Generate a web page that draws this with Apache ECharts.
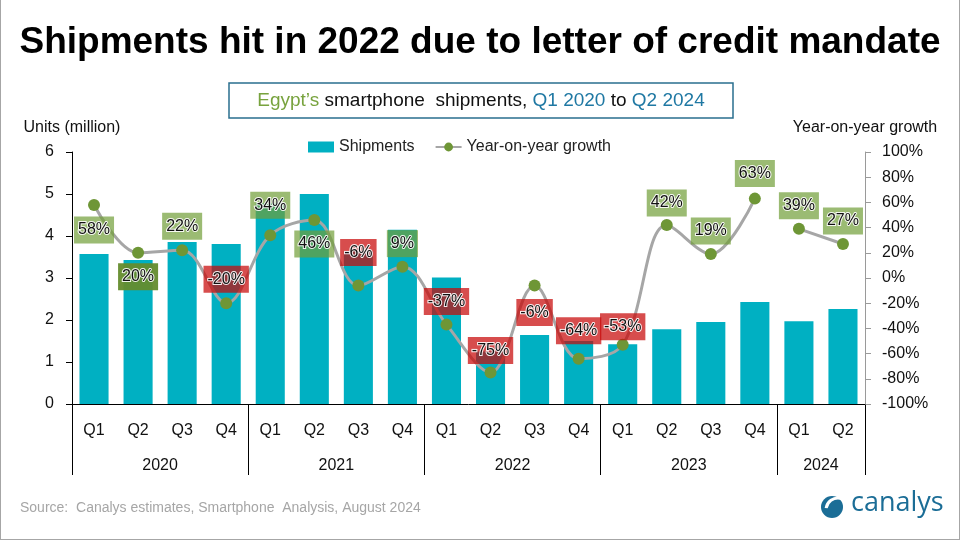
<!DOCTYPE html>
<html>
<head>
<meta charset="utf-8">
<script src="https://cdn.jsdelivr.net/npm/echarts@6/dist/echarts.min.js"></script>
<style>
html,body{margin:0;padding:0;background:#fff;}
#wrap{position:relative;width:960px;height:540px;}
#chart{width:960px;height:540px;}
#frame{position:absolute;left:0;top:0;width:960px;height:540px;box-sizing:border-box;border-left:1px solid #a6a6a6;border-right:1px solid #a6a6a6;border-bottom:1px solid #a6a6a6;pointer-events:none;}
</style>
</head>
<body>
<div id="wrap"><div id="chart"></div><div id="frame"></div></div>
<script>
// ---- data ----
const quarters = ['Q1','Q2','Q3','Q4','Q1','Q2','Q3','Q4','Q1','Q2','Q3','Q4','Q1','Q2','Q3','Q4','Q1','Q2'];
const years = ['2020','2021','2022','2023','2024'];
const quartersPerYear = [4,4,4,4,2];
const shipments = [3.57,3.43,3.86,3.81,4.78,5.00,3.64,4.15,3.01,1.25,1.64,1.50,1.42,1.78,1.95,2.43,1.97,2.26];
const growth = [58,20,22,-20,34,46,-6,9,-37,-75,-6,-64,-53,42,19,63,39,27];
const growthSegments = [[0,15],[16,17]]; // line is broken between 2023 and 2024

// ---- styles ----
const FONT = "'Liberation Sans',sans-serif";
const labelDy = [25,24,-24,-24,-30,24,-33,-23,-23,-22,27,-28,-18,-22,-23,-25,-23,-23];
const darkLabelIdx = [1];

// year axis: boundary-point category axis (19 points for 18 quarters)
const nB = quarters.length + 1;
const yearAxisData = new Array(nB).fill('');
const yearLabelIdx = [], yearTickIdx = [0];
let acc = 0;
quartersPerYear.forEach((n, i) => {
  const c = acc + n / 2;
  yearAxisData[c] = years[i];
  yearLabelIdx.push(c);
  acc += n;
  yearTickIdx.push(acc);
});

function growthData(seg) {
  return growth.map((v, i) => {
    if (i < seg[0] || i > seg[1]) return null;
    const pos = v >= 0;
    let bg = pos ? 'rgba(112,158,55,0.7)' : 'rgba(200,8,8,0.72)';
    if (darkLabelIdx.includes(i)) bg = 'rgba(100,140,45,0.95)';
    return {
      value: v,
      label: {
        show: true,
        position: 'inside',
        offset: [0, labelDy[i]],
        formatter: v + '%',
        backgroundColor: bg,
        padding: [4, 4, 2, 4],
        fontSize: 16,
        lineHeight: 21,
        fontFamily: FONT,
        color: '#111',
        textBorderColor: 'rgba(255,255,255,0.9)',
        textBorderWidth: 2
      }
    };
  });
}

const chart = echarts.init(document.getElementById('chart'), null, {renderer: 'canvas'});

const lineSeries = growthSegments.map(seg => ({
  name: 'Year-on-year growth',
  type: 'line',
  yAxisIndex: 1,
  data: growthData(seg),
  smooth: 0.35,
  symbol: 'circle',
  symbolSize: 12,
  connectNulls: false,
  lineStyle: {color: '#a6a6a6', width: 3},
  itemStyle: {color: '#6e9636'},
  z: 5
}));

chart.setOption({
  animation: false,
  textStyle: {fontFamily: FONT},
  title: {
    text: 'Shipments hit in 2022 due to letter of credit mandate',
    left: 'center',
    top: 19,
    textStyle: {fontSize: 37, fontWeight: 'bold', color: '#000', fontFamily: FONT}
  },
  legend: {
    top: 134,
    left: 303,
    itemGap: 20,
    itemWidth: 26,
    itemHeight: 11,
    textStyle: {fontSize: 16, color: '#222', fontFamily: FONT},
    data: [
      {name: 'Shipments', icon: 'rect'},
      {name: 'Year-on-year growth'}
    ]
  },
  grid: [
    {left: 72, right: 95, top: 152, bottom: 136, containLabel: false},
    {left: 72, right: 95, top: 404, bottom: 65, containLabel: false}
  ],
  xAxis: [
    {
      type: 'category',
      gridIndex: 0,
      data: quarters,
      position: 'bottom',
      axisLine: {lineStyle: {color: '#000', width: 1}},
      axisTick: {show: false},
      axisLabel: {fontSize: 16, color: '#111', margin: 19, interval: 0, fontFamily: FONT},
      z: 10
    },
    {
      type: 'category',
      gridIndex: 1,
      data: yearAxisData,
      boundaryGap: false,
      position: 'bottom',
      axisLine: {show: false},
      axisTick: {show: false},
      splitLine: {show: true, interval: (i) => yearTickIdx.includes(i), lineStyle: {color: '#000', width: 1}},
      axisLabel: {show: true, inside: true, fontSize: 16, color: '#111', margin: 1, interval: (i) => yearLabelIdx.includes(i), fontFamily: FONT}
    }
  ],
  yAxis: [
    {
      type: 'value',
      gridIndex: 0,
      min: 0, max: 6, interval: 1,
      name: 'Units (million)',
      nameLocation: 'end',
      nameGap: 16,
      nameTextStyle: {fontSize: 16, color: '#111', align: 'center', fontFamily: FONT},
      axisLine: {show: true, lineStyle: {color: '#000'}},
      axisTick: {show: true, length: 6, lineStyle: {color: '#000'}},
      axisLabel: {fontSize: 16, color: '#111', margin: 18, fontFamily: FONT},
      splitLine: {show: false}
    },
    {
      type: 'value',
      gridIndex: 0,
      min: -100, max: 100, interval: 20,
      name: 'Year-on-year growth',
      nameLocation: 'end',
      nameGap: 16,
      nameTextStyle: {fontSize: 16, color: '#111', align: 'center', fontFamily: FONT},
      axisLine: {show: true, lineStyle: {color: '#9a9a9a'}},
      axisTick: {show: true, length: 6, lineStyle: {color: '#9a9a9a'}},
      axisLabel: {fontSize: 16, color: '#111', margin: 17, formatter: '{value}%', fontFamily: FONT},
      splitLine: {show: false}
    },
    {
      type: 'value',
      gridIndex: 1,
      min: 0, max: 1,
      show: false
    }
  ],
  series: [
    {
      name: 'Shipments',
      type: 'bar',
      data: shipments,
      barWidth: '66%',
      itemStyle: {color: '#00b0c2'},
      z: 2
    },
    ...lineSeries
  ],
  graphic: [
    {
      type: 'rect',
      shape: {x: 229, y: 83, width: 504, height: 35},
      style: {fill: '#fff', stroke: '#2a6f8e', lineWidth: 1.5},
      z: 10
    },
    {
      type: 'text',
      x: 481, y: 101,
      style: {
        text: '{g|Egypt\u2019s} smartphone  shipments, {b|Q1 2020} to {b|Q2 2024}',
        align: 'center', verticalAlign: 'middle',
        font: "19px 'Liberation Sans',sans-serif",
        fill: '#111',
        rich: {
          g: {fill: '#78a33e', fontSize: 19, fontFamily: FONT},
          b: {fill: '#1f78a3', fontSize: 19, fontFamily: FONT}
        }
      },
      z: 11
    },
    {
      type: 'text',
      x: 20, y: 508,
      style: {
        text: 'Source:  Canalys estimates, Smartphone  Analysis, August 2024',
        verticalAlign: 'middle',
        font: "14px 'Liberation Sans',sans-serif",
        fill: '#a6a6a6'
      }
    },
    {
      type: 'circle',
      shape: {cx: 832, cy: 507, r: 11},
      style: {fill: '#1b6d96'}
    },
    {
      type: 'arc',
      shape: {cx: 838, cy: 510, r: 12, startAngle: Math.PI * 1.05, endAngle: Math.PI * 1.7},
      style: {stroke: '#fff', lineWidth: 3, fill: null}
    },
    {
      type: 'text',
      x: 851, y: 503,
      style: {
        text: 'canalys',
        verticalAlign: 'middle',
        font: "27px 'Open Sans',sans-serif",
        fill: '#1b6d96'
      }
    }
  ]
});
</script>
</body>
</html>
